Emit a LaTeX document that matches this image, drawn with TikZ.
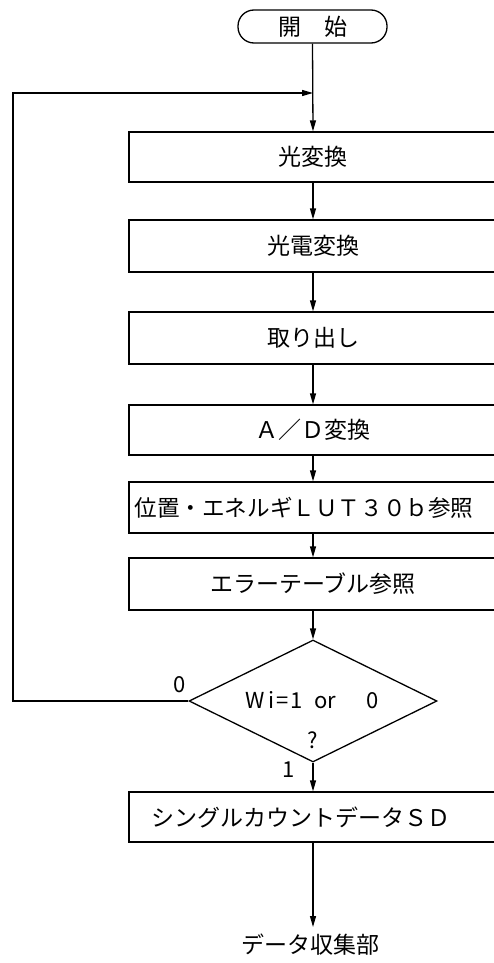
\documentclass[tikz,border=0pt]{standalone}
\usepackage{fontspec}
\setmainfont{Noto Sans CJK JP}
\usetikzlibrary{shapes.geometric,arrows.meta}
\begin{document}
\begin{tikzpicture}[x=1pt,y=-1pt,
  line width=1.3pt,
  txt/.style={font=\fontsize{23}{27}\selectfont, inner sep=0pt},
  box/.style={draw, rectangle, minimum width=368pt, minimum height=#1, inner sep=0pt, txt},
  arr/.style={-{Triangle[length=11pt,width=6pt]}},
  lbl/.style={font=\fontsize{22}{26}\selectfont, inner sep=0pt}
]
\useasboundingbox (0,0) rectangle (494,963);
\node[draw, rounded corners=16pt, minimum width=149pt, minimum height=33pt, inner sep=0pt, txt] (start) at (312.5,26.5) {開　始};
\node[box=50pt] (b1) at (313,157) {光変換};
\node[box=52pt] (b2) at (313,246) {光電変換};
\node[box=52pt] (b3) at (313,338) {取り出し};
\node[box=50pt] (b4) at (313,430) {Ａ／Ｄ変換};
\node[box=51pt] (b5) at (313,507.5) {\fontsize{22.6}{26}\selectfont 位置・エネルギＬＵＴ３０ｂ参照\hspace*{18pt}};
\node[box=52pt] (b6) at (313,584) {エラーテーブル参照};
\node[draw, diamond, minimum width=248pt, minimum height=122pt, inner sep=0pt] (dia) at (313,701) {};
\node[lbl] (cond) at (312,700) {W\hspace{4pt}i\hspace{2pt}=\hspace{1pt}1\hspace{12pt}or\hspace{30pt}0};
\node[lbl] (q) at (313,740) {?};
\node[lbl] (l0) at (180,685) {0};
\node[lbl] (l1) at (289,770) {1};
\node[box=50pt] (b7) at (313,817) {シングルカウントデータＳＤ\hspace*{24pt}};
\node[txt] (out) at (310,945) {データ収集部};
\coordinate (j) at (313,93);
\coordinate (lc) at (13,701);
\coordinate (ea) at (313,927);
\draw[arr] (start.south) -- (b1.north);
\draw[arr] (b1.south) -- (b2.north);
\draw[arr] (b2.south) -- (b3.north);
\draw[arr] (b3.south) -- (b4.north);
\draw[arr] (b4.south) -- (b5.north);
\draw[arr] (b5.south) -- (b6.north);
\draw[arr] (b6.south) -- (dia.north);
\draw[arr] (dia.south) -- (b7.north);
\draw[arr] (b7.south) -- (ea);
\draw[arr] (dia.west) -- (lc) |- (j);
\end{tikzpicture}
\end{document}
